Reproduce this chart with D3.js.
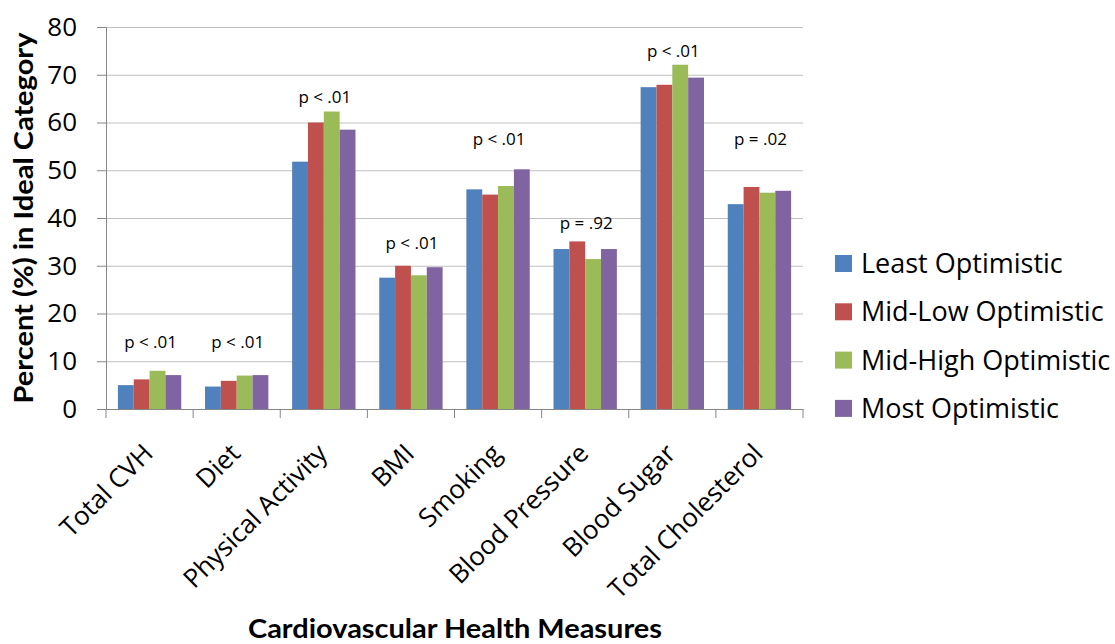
<!DOCTYPE html>
<html>
<head>
<meta charset="utf-8">
<script src="https://cdn.jsdelivr.net/npm/d3@7"></script>
<style>
  body { margin: 0; background: #fff; }
  text { font-family: "Open Sans", sans-serif; }
  .grid line { stroke: #c0c0c0; }
  .grid path { display: none; }
  .axis path, .axis line { stroke: #868686; }
  text.title { font-family: Lato, sans-serif; font-weight: bold; }
</style>
</head>
<body>
<svg width="1115" height="644"></svg>
<script>
// categories, series and values
const measures = ['Total CVH', 'Diet', 'Physical Activity', 'BMI', 'Smoking',
  'Blood Pressure', 'Blood Sugar', 'Total Cholesterol'];
const groups = ['Least Optimistic', 'Mid-Low Optimistic', 'Mid-High Optimistic', 'Most Optimistic'];
const colors = ['#4f81bd', '#c0504d', '#9bbb59', '#8064a2'];

const leastOpt = [5.0, 4.7, 51.8, 27.5, 46.0, 33.5, 67.4, 42.9];
const midLowOpt = [6.2, 5.9, 60.0, 30.0, 44.9, 35.1, 67.9, 46.5];
const midHighOpt = [8.0, 7.0, 62.3, 28.0, 46.7, 31.4, 72.1, 45.3];
const mostOpt = [7.1, 7.1, 58.5, 29.7, 50.2, 33.5, 69.4, 45.7];

// p-value labels and the height (in %) where each sits
const pLabels = ['p < .01', 'p < .01', 'p < .01', 'p < .01', 'p < .01', 'p = .92', 'p < .01', 'p = .02'];
const pLabelY = [14.0, 14.0, 65.4, 34.8, 56.5, 38.9, 74.9, 56.5];

const yTicks = [0, 10, 20, 30, 40, 50, 60, 70, 80];

const series = [leastOpt, midLowOpt, midHighOpt, mostOpt];

const svg = d3.select('svg');
const plot = { l: 106, r: 803, t: 27, b: 409 };

const x = d3.scaleBand().domain(measures).range([plot.l, plot.r]);
const xInner = d3.scaleBand().domain(groups)
  .range([0, x.bandwidth()]).paddingOuter(0.75);
const y = d3.scaleLinear().domain([0, 80]).range([plot.b, plot.t]);

// gridlines
svg.append('g')
  .attr('class', 'grid')
  .attr('transform', `translate(${plot.l},0)`)
  .call(d3.axisLeft(y).tickValues(yTicks.slice(1)).tickSize(-(plot.r - plot.l)).tickFormat(''));

// y axis with tick labels
const yAxis = svg.append('g')
  .attr('class', 'axis')
  .attr('transform', `translate(${plot.l},0)`)
  .call(d3.axisLeft(y).tickValues(yTicks).tickSize(9).tickPadding(20));
yAxis.selectAll('text').attr('font-size', 26).attr('fill', '#000');

// bars
measures.forEach(function (m, i) {
  const g = svg.append('g').attr('transform', `translate(${x(m)},0)`);
  g.selectAll('rect')
    .data(series.map((s, k) => ({ v: s[i], k: k })))
    .enter()
    .append('rect')
    .attr('x', d => xInner(groups[d.k]))
    .attr('width', xInner.bandwidth())
    .attr('y', d => y(d.v))
    .attr('height', d => y(0) - y(d.v))
    .attr('fill', d => colors[d.k]);
  g.append('text')
    .attr('x', x.bandwidth() / 2 + 1)
    .attr('y', y(pLabelY[i]))
    .attr('dy', '0.35em')
    .attr('text-anchor', 'middle')
    .attr('font-size', 17)
    .text(pLabels[i]);
});

// x axis
const xAxis = svg.append('g')
  .attr('class', 'axis')
  .attr('transform', `translate(0,${plot.b})`)
  .call(d3.axisBottom(x).tickSize(0).tickFormat(''));
xAxis.selectAll('.boundary')
  .data(d3.range(measures.length + 1))
  .enter()
  .append('line')
  .attr('class', 'boundary')
  .attr('x1', i => plot.l + i * x.bandwidth())
  .attr('x2', i => plot.l + i * x.bandwidth())
  .attr('y1', 0)
  .attr('y2', 9)
  .attr('stroke', '#868686');
xAxis.selectAll('.cat')
  .data(measures)
  .enter()
  .append('text')
  .attr('class', 'cat')
  .attr('transform', d => `translate(${x(d) + x.bandwidth() / 2 + 5},${46}) rotate(-45)`)
  .attr('text-anchor', 'end')
  .attr('font-size', 26)
  .attr('fill', '#000')
  .text(d => d);

// axis titles
svg.append('text')
  .attr('class', 'title')
  .attr('transform', `translate(33,${(plot.t + plot.b) / 2}) rotate(-90)`)
  .attr('text-anchor', 'middle')
  .attr('font-size', 27)
  .attr('textLength', 371)
  .attr('lengthAdjust', 'spacingAndGlyphs')
  .text('Percent (%) in Ideal Category');
svg.append('text')
  .attr('class', 'title')
  .attr('x', 455)
  .attr('y', 638)
  .attr('text-anchor', 'middle')
  .attr('font-size', 27)
  .attr('textLength', 414)
  .attr('lengthAdjust', 'spacingAndGlyphs')
  .text('Cardiovascular Health Measures');

// legend
const legend = svg.append('g').attr('transform', 'translate(835,263.5)');
groups.forEach(function (name, k) {
  const row = legend.append('g').attr('transform', `translate(0,${k * 48.3})`);
  row.append('rect').attr('x', 0).attr('y', -8.5).attr('width', 17).attr('height', 17)
    .attr('fill', colors[k]);
  row.append('text').attr('x', 26).attr('dy', '0.35em')
    .attr('font-size', 27)
    .text(name);
});
</script>
</body>
</html>
